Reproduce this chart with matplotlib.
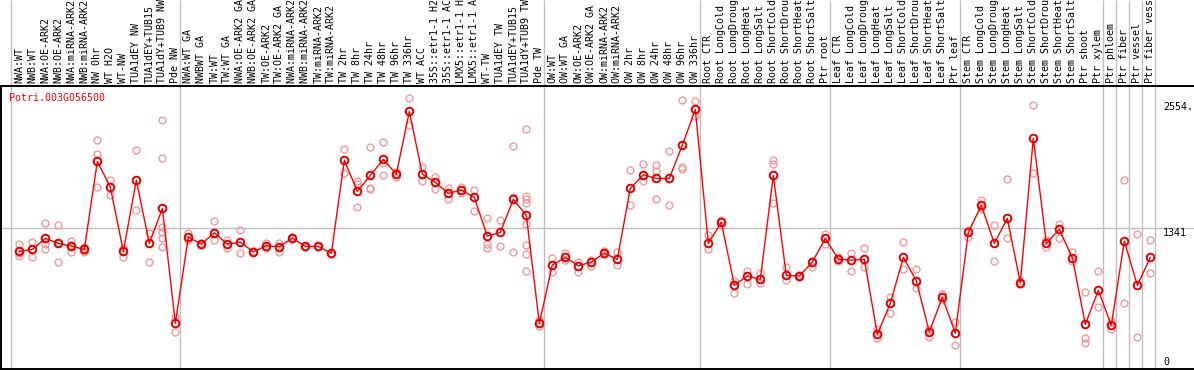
import matplotlib.pyplot as plt
from matplotlib.transforms import blended_transform_factory

gene_id = "Potri.003G056500"

labels = [
    "NWA:WT", "NWB:WT", "NWA:OE-ARK2", "NWB:OE-ARK2", "NWA:miRNA-ARK2", "NWB:miRNA-ARK2",
    "NW 0hr", "WT H2O", "WT-NW", "TUA1dEY NW", "TUA1dEY+TUB15", "TUA1dY+TUB9 NW", "Pde NW",
    "NWA:WT GA", "NWBWT GA", "TW:WT", "TW:WT GA", "NWA:OE-ARK2 GA", "NWB:OE-ARK2 GA",
    "TW:OE-ARK2", "TW:OE-ARK2 GA", "NWA:miRNA-ARK2 GA", "NWB:miRNA-ARK2 GA", "TW:miRNA-ARK2",
    "TW:miRNA-ARK2 GA", "TW 2hr", "TW 8hr", "TW 24hr", "TW 48hr", "TW 96hr", "TW 336hr",
    "WT ACC", "35S::etr1-1 H2O", "35S::etr1-1 ACC", "LMX5::etr1-1 H2O", "LMX5::etr1-1 ACC",
    "WT-TW", "TUA1dEY TW", "TUA1dEY+TUB15", "TUA1dY+TUB9 TW", "Pde TW",
    "OW:WT", "OW:WT GA", "OW:OE-ARK2", "OW:OE-ARK2 GA", "OW:miRNA-ARK2", "OW:miRNA-ARK2 GA",
    "OW 2hr", "OW 8hr", "OW 24hr", "OW 48hr", "OW 96hr", "OW 336hr",
    "Root CTR", "Root LongCold", "Root LongDrought", "Root LongHeat", "Root LongSalt",
    "Root ShortCold", "Root ShortDrought", "Root ShortHeat", "Root ShortSalt", "Ptr root",
    "Leaf CTR", "Leaf LongCold", "Leaf LongDrought", "Leaf LongHeat", "Leaf LongSalt",
    "Leaf ShortCold", "Leaf ShortDrought", "Leaf ShortHeat", "Leaf ShortSalt", "Ptr leaf",
    "Stem CTR", "Stem LongCold", "Stem LongDrought", "Stem LongHeat", "Stem LongSalt",
    "Stem ShortCold", "Stem ShortDrought", "Stem ShortHeat", "Stem ShortSalt", "Ptr shoot",
    "Ptr xylem", "Ptr phloem", "Ptr fiber", "Ptr vessel", "Ptr fiber vessel",
]

# first index of each sample group (last entry = end)
group_starts = [0, 13, 41, 53, 63, 73, 84, 85, 86, 87, 88]

means = [
    1110, 1130, 1240, 1190, 1163, 1130, 2010, 1753, 1110, 1823, 1190, 1540, 390,
    1253, 1183, 1296, 1183, 1203, 1106, 1166, 1156, 1243, 1160, 1160, 1090, 2023, 1710,
    1870, 2030, 1883, 2510, 1883, 1800, 1690, 1725, 1650, 1263, 1300, 1630, 1470, 390,
    973, 1050, 966, 1003, 1093, 1030, 1740, 1876, 1840, 1840, 2173, 2530,
    1190, 1400, 773, 863, 830, 1870, 870, 863, 1003, 1240,
    1033, 1023, 1030, 280, 590, 1050, 816, 303, 650, 293,
    1300, 1570, 1190, 1440, 796, 2243, 1190, 1330, 1046, 380, 720,
    370, 1213, 770, 1050,
]

replicates = [
    [1183, 1090, 1066], [1200, 1056, 1130], [1390, 1186, 1130], [1370, 1000, 1190],
    [1216, 1103, 1170], [1150, 1110, 1103], [2220, 2083, 1756], [1823, 1670],
    [1140, 1056], [2120, 1523], [1290, 1000], [2420, 2040, 1356, 1306, 1240, 1156],
    [456, 306],
    [1296, 1223], [1190, 1176], [1413, 1220], [1226, 1146], [1323, 1096], [1100, 1116],
    [1196, 1146], [1190, 1106], [1256, 1233], [1166, 1156], [1166, 1156], [1096, 1086],
    [2130, 1890], [1816, 1783, 1550], [2150, 1740, 1736], [2200, 1996, 1870],
    [1906, 1856], [2640, 2370], [1950, 1810], [1850, 1730], [1746, 1636], [1756, 1690],
    [1723, 1510], [1440, 1183, 1146], [1423, 1163], [2163, 1656, 1100],
    [2330, 1663, 1636, 1596, 1380, 1173, 1080, 910], [423, 363],
    [1040, 906], [1090, 1023], [1006, 903], [1023, 966], [1113, 1080], [1100, 970],
    [1923, 1570], [1983, 1816], [1973, 1910, 1630], [2110, 1570], [2620, 1950, 1936],
    [2610, 2463],
    [1273, 1130], [1423, 1376], [816, 690], [916, 780], [890, 796], [2023, 1983, 1596],
    [950, 823], [870, 856], [956, 1010], [1280, 1183],
    [1050, 1016], [1090, 916], [1140, 950], [336, 240], [656, 496], [1200, 930],
    [930, 740], [336, 256], [683, 623], [400, 170],
    [1323, 1256], [1623, 1540], [1373, 1010], [1830, 1246], [810, 783], [2570, 1890],
    [1223, 1150], [1380, 1246], [1100, 1016], [700, 240, 190], [910, 556],
    [416, 336], [1820, 590], [1280, 250], [1220, 893],
]

ref_value = 1341
max_value = 2554

mono = "DejaVu Sans Mono"
grey = "#c0c0c0"

fig = plt.figure(figsize=(11.94, 3.70), dpi=100)
ax = fig.add_axes([1 / 1194, 1 / 370, 1193 / 1194, 283 / 370])
ax.set_xlim(-1.41, 90.36)
ax.set_ylim(-67, 2765)
ax.set_xticks([])
ax.set_yticks([])
ax.spines["right"].set_visible(False)
for s in ["left", "top", "bottom"]:
    ax.spines[s].set_linewidth(1.4)

# replicate samples
for i, reps in enumerate(replicates):
    ax.plot([i] * len(reps), reps, "o", mfc="none", mec="#f09a9a", ms=5, mew=1.0, zorder=2)

# mean profile
xs = list(range(len(means)))
ax.plot(xs, means, "-", color="red", lw=1, zorder=3)
ax.plot(xs, means, "o", mfc="none", mec="#e00000", ms=5.5, mew=1.4, zorder=4)

ax.axhline(ref_value, color=grey, lw=1, zorder=1)
xtrans = ax.get_xaxis_transform()
ax.vlines([b - 0.62 for b in group_starts], 0, 1 + 86 / 283, transform=xtrans,
          color=grey, lw=1, clip_on=False, zorder=1)

for i, lab in enumerate(labels):
    ax.text(i, 1.0095, lab, transform=xtrans, rotation=90, ha="center", va="bottom",
            fontsize=7.2, family=mono, clip_on=False)

ytrans = blended_transform_factory(ax.transAxes, ax.transData)
tx = (1163 - 1) / 1193
ax.text(tx, max_value, f"{max_value}.", transform=ytrans, va="center", ha="left",
        fontsize=7.2, family=mono)
ax.text(tx, ref_value, f"{ref_value}", transform=ytrans, va="top", ha="left",
        fontsize=7.2, family=mono)
ax.text(tx, 0, "0", transform=ytrans, va="center", ha="left", fontsize=7.2, family=mono)

ax.text(0.0071, 0.975, gene_id, transform=ax.transAxes, color="red", va="top",
        ha="left", fontsize=7.2, family=mono)

fig.savefig("out.png", dpi=100)
